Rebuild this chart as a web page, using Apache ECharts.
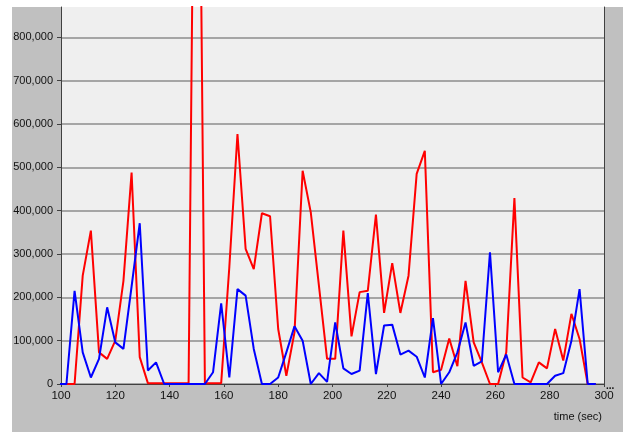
<!DOCTYPE HTML>
<html>
<head>
    <meta charset="utf-8">
    <title>time (sec)</title>
    <style>
        html, body { margin: 0; padding: 0; background: #fff; }
        #demo { width: 627px; height: 432px; }
    </style>
</head>
<body>
<div id="demo"></div>
<script type="text/javascript" src="https://cdn.jsdelivr.net/npm/echarts@6/dist/echarts.min.js"></script>
<script type="text/javascript">
    // sample times (sec), one every 3 s
    var times = [99, 102, 105, 108, 111, 114, 117, 120, 123, 126, 129, 132, 135, 138, 141, 144, 147, 150,
        153, 156, 159, 162, 165, 168, 171, 174, 177, 180, 183, 186, 189, 192, 195, 198, 201, 204, 207,
        210, 213, 216, 219, 222, 225, 228, 231, 234, 237, 240, 243, 246, 249, 252, 255, 258, 261, 264,
        267, 270, 273, 276, 279, 282, 285, 288, 291, 294, 297];
    var redValues = [0, 0, 0, 250000, 354000, 73000, 58000, 100000, 238000, 488000, 62000, 2000, 2000,
        2000, 2000, 2000, 2000, 2000000, 2000, 2000, 2000, 270000, 577000, 312000, 265000, 394000, 387000,
        127000, 19000, 119000, 492000, 396000, 227000, 58000, 58000, 354000, 110000, 212000, 215000,
        391000, 164000, 279000, 164000, 250000, 485000, 538000, 27000, 33000, 105000, 41000, 238000,
        96000, 50000, 0, 0, 73000, 429000, 15000, 4000, 50000, 36000, 127000, 54000, 162000, 104000, 0, 0];
    var blueValues = [0, 0, 215000, 73000, 15000, 58000, 177000, 96000, 81000, 225000, 371000, 31000,
        50000, 0, 0, 0, 0, 0, 0, 27000, 186000, 15000, 219000, 204000, 81000, 0, 0, 15000, 73000, 133000,
        100000, 0, 25000, 5000, 142000, 36000, 23000, 31000, 210000, 23000, 135000, 137000, 68000, 77000,
        63000, 15000, 152000, 0, 27000, 73000, 142000, 42000, 52000, 304000, 27000, 68000, 0, 0, 0, 0, 0,
        19000, 25000, 100000, 219000, 0, 0];

    var FONT = '"Liberation Sans Narrow", "Arial Narrow", "Liberation Sans", sans-serif';

    function pairs(vals) {
        var out = [];
        for (var i = 0; i < times.length; i++) {
            out.push([times[i], vals[i]]);
        }
        return out;
    }

    var myChart = echarts.init(document.getElementById('demo'));
    var option = {
        backgroundColor: '#ffffff',
        animation: false,
        graphic: [
            {   // gray frame round the plot
                type: 'rect', z: -10, silent: true,
                shape: { x: 12, y: 7, width: 611, height: 425 },
                style: { fill: '#c0c0c0' }
            },
            {
                type: 'text', silent: true, right: 25, top: 411,
                style: { text: 'time (sec)', fill: '#111', font: '11px ' + FONT }
            },
            {
                type: 'text', silent: true, left: 606, top: 381,
                style: { text: '...', fill: '#111', font: 'bold 10px ' + FONT }
            }
        ],
        grid: {
            left: 61, right: 23, top: 7, bottom: 48,
            show: true, backgroundColor: '#efefef', borderWidth: 0
        },
        xAxis: {
            type: 'value', min: 100, max: 300, interval: 20,
            axisLine: { show: true, onZero: false, lineStyle: { color: '#404040', width: 1 } },
            axisTick: { show: true, length: 3, lineStyle: { color: '#404040' } },
            axisLabel: { color: '#111', fontSize: 11.5, fontFamily: FONT, margin: 6 },
            splitLine: { show: false }
        },
        yAxis: [
            {
                type: 'value', min: 0, max: 870000, interval: 100000,
                axisLine: { show: true, lineStyle: { color: '#404040', width: 1 } },
                axisTick: { show: true, length: 4, lineStyle: { color: '#404040' } },
                axisLabel: {
                    color: '#111', fontSize: 11, fontFamily: FONT, margin: 8, showMaxLabel: false,
                    formatter: function (v) {
                        return String(v).replace(/\B(?=(\d{3})+(?!\d))/g, ',');
                    }
                },
                splitLine: { show: true, showMaxLine: false, lineStyle: { color: '#8c8c8c', width: 1.5 } }
            },
            {
                type: 'value', min: 0, max: 870000, position: 'right',
                axisLine: { show: true, lineStyle: { color: '#404040', width: 1 } },
                axisTick: { show: false }, axisLabel: { show: false }, splitLine: { show: false }
            }
        ],
        series: [
            {
                name: 'red', type: 'line', data: pairs(redValues), symbol: 'none', clip: true,
                lineStyle: { color: '#ff0000', width: 2 }, z: 3
            },
            {
                name: 'blue', type: 'line', data: pairs(blueValues), symbol: 'none', clip: true,
                lineStyle: { color: '#0000ff', width: 2 }, z: 4
            }
        ]
    };
    myChart.setOption(option);
</script>
</body>
</html>
